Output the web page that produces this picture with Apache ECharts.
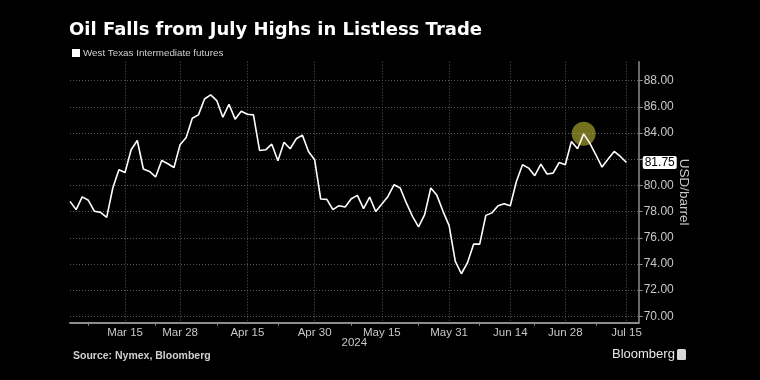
<!DOCTYPE html>
<html><head><meta charset="utf-8">
<script src="https://cdn.jsdelivr.net/npm/echarts@6/dist/echarts.min.js"></script>
<style>html,body{margin:0;padding:0;background:#000;}#c{width:760px;height:380px;}</style>
</head><body><div id="c"></div>
<script>
// Trading days (category axis)
const dates = [
 'Mar 4','Mar 5','Mar 6','Mar 7','Mar 8','Mar 11','Mar 12','Mar 13','Mar 14','Mar 15',
 'Mar 18','Mar 19','Mar 20','Mar 21','Mar 22','Mar 25','Mar 26','Mar 27','Mar 28',
 'Apr 1','Apr 2','Apr 3','Apr 4','Apr 5','Apr 8','Apr 9','Apr 10','Apr 11','Apr 12',
 'Apr 15','Apr 16','Apr 17','Apr 18','Apr 19','Apr 22','Apr 23','Apr 24','Apr 25','Apr 26','Apr 29','Apr 30',
 'May 1','May 2','May 3','May 6','May 7','May 8','May 9','May 10','May 13','May 14','May 15',
 'May 16','May 17','May 20','May 21','May 22','May 23','May 24','May 28','May 29','May 30','May 31',
 'Jun 3','Jun 4','Jun 5','Jun 6','Jun 7','Jun 10','Jun 11','Jun 12','Jun 13','Jun 14',
 'Jun 17','Jun 18','Jun 20','Jun 21','Jun 24','Jun 25','Jun 26','Jun 27','Jun 28',
 'Jul 1','Jul 2','Jul 3','Jul 5','Jul 8','Jul 9','Jul 10','Jul 11','Jul 12','Jul 15','Jul 16','Jul 17'
];
// WTI futures, USD/barrel
const wti = [
 78.78,78.15,79.12,78.86,78.02,77.94,77.56,79.80,81.20,80.99,
 82.72,83.43,81.25,81.07,80.64,81.90,81.65,81.37,83.10,
 83.66,85.13,85.39,86.60,86.91,86.48,85.21,86.20,85.06,85.67,
 85.44,85.39,82.67,82.72,83.15,81.88,83.30,82.80,83.56,83.84,82.59,81.96,
 78.96,78.93,78.15,78.45,78.35,78.98,79.24,78.22,79.11,78.00,78.58,
 79.16,80.05,79.80,78.66,77.64,76.83,77.77,79.80,79.24,78.02,76.93,
 74.21,73.25,74.09,75.51,75.51,77.71,77.90,78.45,78.60,78.45,
 80.30,81.58,81.32,80.74,81.63,80.87,80.94,81.75,81.58,
 83.36,82.80,83.94,83.23,82.34,81.40,82.01,82.59,82.21,81.75,null,null
];
const xTickLabels = ['Mar 15','Mar 28','Apr 15','Apr 30','May 15','May 31','Jun 14','Jun 28','Jul 15'];
const xMinorTicks = ['Mar 7','Mar 22','Apr 8','Apr 22','May 8','May 23','Jun 7','Jun 21','Jul 8'];
const yTickMin = 70, yTickMax = 88, yTickStep = 2;
const highlightDate = 'Jul 3';
const seriesName = 'West Texas Intermediate futures';
const titleText = 'Oil Falls from July Highs in Listless Trade';
const yearLabel = '2024';
const unitLabel = 'USD/barrel';
const sourceText = 'Source: Nymex, Bloomberg';

let lastVal = null;
for (let i = wti.length - 1; i >= 0; i--) { if (wti[i] != null) { lastVal = wti[i]; break; } }
const hiIdx = dates.indexOf(highlightDate);

const FONT = 'Liberation Sans';
const chart = echarts.init(document.getElementById('c'), null, {renderer: 'canvas'});
chart.setOption({
  backgroundColor: '#000',
  animation: false,
  title: {
    text: titleText, left: 69, top: 21, padding: 0,
    textStyle: {color: '#fff', fontSize: 18, fontWeight: 'bold', fontFamily: 'DejaVu Sans'}
  },
  legend: {
    data: [seriesName], left: 72, top: 48, padding: 0, icon: 'rect', itemWidth: 8, itemHeight: 8, itemGap: 3,
    textStyle: {color: '#d0d0d0', fontSize: 9.8, fontFamily: FONT, padding: [0, 0, 0, -2]}, selectedMode: false
  },
  grid: [
    {left: 70, right: 121.3, top: 61.7, bottom: 57.3},
    {left: 70, right: 121.3, top: 80.7, bottom: 63.7}
  ],
  xAxis: [
    {
      gridIndex: 0, type: 'category', data: dates, boundaryGap: false,
      axisLine: {lineStyle: {color: '#8c8c8c', width: 2}},
      axisTick: {show: true, interval: (i, v) => xMinorTicks.includes(v), length: 3, lineStyle: {color: '#8c8c8c'}},
      axisLabel: {interval: (i, v) => xTickLabels.includes(v), color: '#c8c8c8', fontSize: 11.5, margin: 4, fontFamily: FONT},
      splitLine: {show: true, interval: (i, v) => xTickLabels.includes(v), lineStyle: {color: '#5a5a5a', type: [1, 2], width: 1}},
      name: yearLabel, nameLocation: 'middle', nameGap: 14, nameMoveOverlap: false,
      nameTextStyle: {color: '#c8c8c8', fontSize: 11.5, fontFamily: FONT}
    },
    {gridIndex: 1, type: 'category', data: dates, boundaryGap: false, show: false}
  ],
  yAxis: [
    {
      gridIndex: 0, type: 'value', position: 'right', min: 69.51, max: 89.45,
      axisLine: {show: true, lineStyle: {color: '#8c8c8c', width: 1.5}},
      axisTick: {show: false}, splitLine: {show: false},
      axisLabel: {
        customValues: [lastVal], formatter: v => v.toFixed(2),
        color: '#000', backgroundColor: '#fff', padding: [1, 2, 0, 2], borderRadius: 2,
        fontSize: 12, margin: 4, fontFamily: FONT
      },
      name: unitLabel, nameLocation: 'middle', nameRotate: -90, nameGap: 38, nameMoveOverlap: false,
      nameTextStyle: {color: '#c8c8c8', fontSize: 13.5, fontFamily: FONT}
    },
    {
      gridIndex: 1, type: 'value', position: 'right', min: yTickMin, max: yTickMax, interval: yTickStep,
      axisLine: {show: false},
      axisTick: {show: true, length: 4, lineStyle: {color: '#8c8c8c'}},
      splitLine: {show: true, lineStyle: {color: '#5a5a5a', type: [1, 2], width: 1}},
      axisLabel: {
        formatter: v => (Math.abs(v - lastVal) < 0.8 ? '' : v.toFixed(2)),
        color: '#c8c8c8', fontSize: 12, margin: 5, fontFamily: FONT
      }
    }
  ],
  series: [
    {
      name: 'highlight', type: 'scatter', xAxisIndex: 0, yAxisIndex: 0,
      data: [[highlightDate, wti[hiIdx]]], symbolSize: 24, silent: true, z: 2,
      itemStyle: {color: 'rgba(205,200,55,0.7)'}
    },
    {
      name: seriesName, type: 'line', xAxisIndex: 0, yAxisIndex: 0, data: wti,
      showSymbol: false, symbol: 'none', z: 3, color: '#ffffff',
      lineStyle: {color: '#ffffff', width: 1.6}
    }
  ],
  graphic: [
    {type: 'text', left: 73, top: 351, style: {text: sourceText, fill: '#d0d0d0', font: 'bold 10.5px "Liberation Sans"'}},
    {type: 'text', left: 612, top: 348, style: {text: 'Bloomberg', fill: '#e6e6e6', font: '13px "Liberation Sans"'}},
    {type: 'rect', left: 677, top: 349, shape: {width: 9, height: 11, r: 1.5}, style: {fill: '#d8d8d8'}}
  ]
});
</script></body></html>
